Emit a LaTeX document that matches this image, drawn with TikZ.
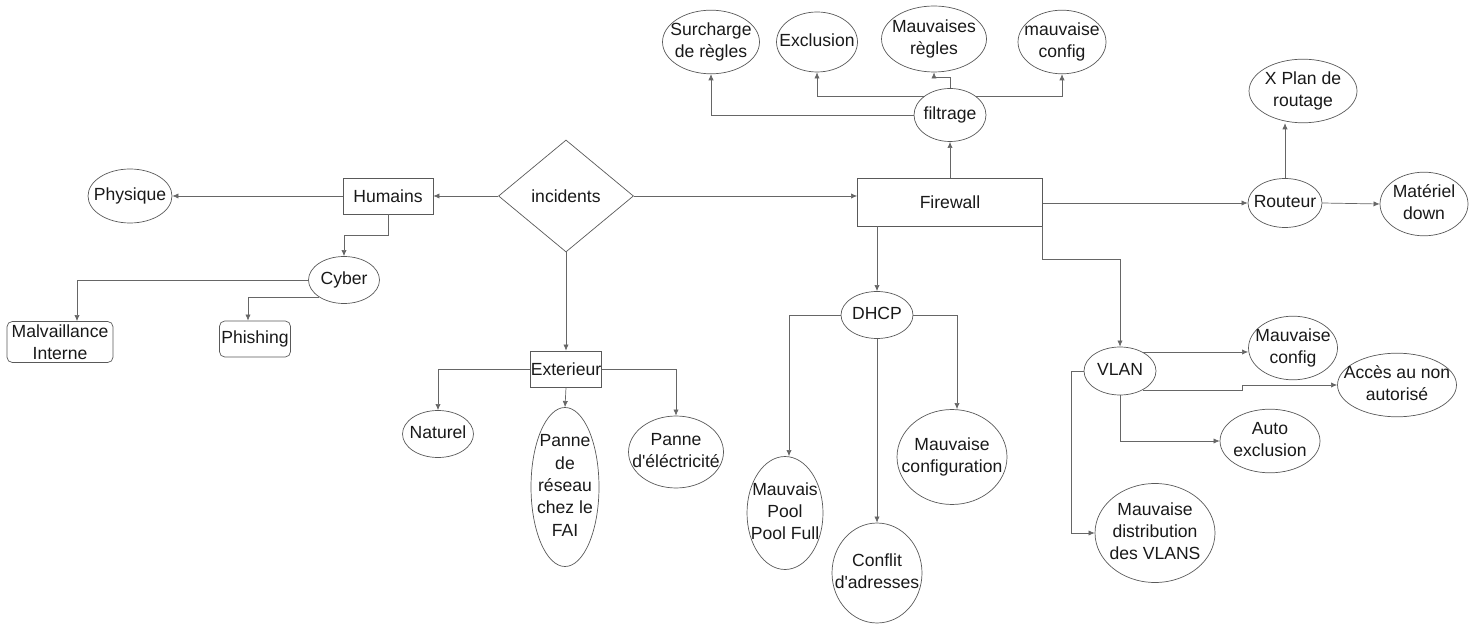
\documentclass[tikz,border=0pt]{standalone}
\usepackage{fontspec}
\setmainfont{Liberation Sans}
\usetikzlibrary{shapes.geometric,arrows.meta}

% text of an oval, kept from widening it
\newcommand{\mtext}[1]{\makebox[0pt]{\begin{tabular}{@{}c@{}}#1\end{tabular}}}

\tikzset{
  every node/.style={font=\fontsize{10}{12.8}\selectfont, text=black!90, inner sep=0pt},
  oval/.style={ellipse, draw=black!65, thin},
  box/.style={rectangle, draw=black!65, thin, align=center},
  rbox/.style={box, rounded corners=3pt},
  link/.style={draw=black!60, thin, -{Latex[length=3.5pt,width=3pt]}}
}

\begin{document}
\begin{tikzpicture}[x=0.02cm,y=-0.02cm]
\useasboundingbox (0,0) rectangle (1473,624);

% centre
\node[diamond, draw=black!65, thin, minimum width=2.7cm, minimum height=2.24cm] (inc) at (566,196) {incidents};

% humains
\node[box, minimum width=1.8cm, minimum height=0.72cm] (hum) at (388,196) {Humains};
\node[oval, minimum width=1.68cm, minimum height=1.08cm] (phy) at (130,196) {\mtext{Physique}};
\node[oval, minimum width=1.42cm, minimum height=0.94cm] (cyb) at (344,280) {\mtext{Cyber}};
\node[rbox, minimum width=2.12cm, minimum height=0.82cm] (mal) at (60,342) {Malvaillance\\Interne};
\node[rbox, minimum width=1.42cm, minimum height=0.72cm] (phi) at (255,339) {Phishing};

% exterieur
\node[box, minimum width=1.42cm, minimum height=0.72cm] (ext) at (566,369) {Exterieur};
\node[oval, minimum width=1.42cm, minimum height=0.94cm] (nat) at (438,434) {\mtext{Naturel}};
\node[oval, minimum width=1.36cm, minimum height=3.12cm] (fai) at (565,487) {\mtext{Panne\\de\\réseau\\chez le\\FAI}};
\node[oval, minimum width=1.9cm, minimum height=1.44cm] (ele) at (676,452) {\mtext{Panne\\d\textquotesingle éléctricité}};

% firewall
\node[box, minimum width=3.7cm, minimum height=0.96cm] (fw) at (950,202) {Firewall};
\node[oval, minimum width=1.44cm, minimum height=1.06cm] (fil) at (950,115) {\mtext{filtrage}};
\node[oval, minimum width=1.94cm, minimum height=1.18cm] (sur) at (711,42) {\mtext{Surcharge\\de règles}};
\node[oval, minimum width=1.62cm, minimum height=1.2cm] (exc) at (817,42) {\mtext{Exclusion}};
\node[oval, minimum width=2.1cm, minimum height=1.32cm] (mr) at (934,39) {\mtext{Mauvaises\\règles}};
\node[oval, minimum width=1.76cm, minimum height=1.2cm] (mc) at (1062,42) {\mtext{mauvaise\\config}};

% routeur
\node[oval, minimum width=1.48cm, minimum height=0.98cm] (rou) at (1285,203) {\mtext{Routeur}};
\node[oval, minimum width=2.16cm, minimum height=1.1cm] (xp) at (1303,91) {\mtext{X Plan de\\routage}};
\node[oval, minimum width=1.76cm, minimum height=0.9cm] (mat) at (1424,204) {\mtext{Matériel\\down}};

% dhcp
\node[oval, minimum width=1.44cm, minimum height=0.94cm] (dhcp) at (877,315) {\mtext{DHCP}};
\node[oval, minimum width=1.52cm, minimum height=2.26cm] (pool) at (785,513) {\mtext{Mauvais\\Pool\\Pool Full}};
\node[oval, minimum width=1.8cm, minimum height=2.0cm] (con) at (877,573) {\mtext{Conflit\\d\textquotesingle adresses}};
\node[oval, minimum width=2.2cm, minimum height=1.9cm] (mcf) at (952,457) {\mtext{Mauvaise\\configuration}};

% vlan
\node[oval, minimum width=1.44cm, minimum height=0.96cm] (vlan) at (1120,371) {\mtext{VLAN}};
\node[oval, minimum width=1.78cm, minimum height=1.24cm] (vmc) at (1293,348) {\mtext{Mauvaise\\config}};
\node[oval, minimum width=2.38cm, minimum height=1.12cm] (acc) at (1397,385) {\mtext{Accès au non\\autorisé}};
\node[oval, minimum width=2.0cm, minimum height=1.12cm] (aut) at (1270,441) {\mtext{Auto\\exclusion}};
\node[oval, minimum width=2.4cm, minimum height=1.98cm] (dis) at (1155,533) {\mtext{Mauvaise\\distribution\\des VLANS}};

% liens
\draw[link] (inc.west) -- (hum.east);
\draw[link] (inc.east) -- (fw.west |- inc.east);
\draw[link] (inc.south) -- (ext.north);

\draw[link] (hum.west) -- (phy.east);
\draw[link] (hum.south) -- ++(0,21) -| (cyb.north);
\draw[link] (cyb.west) -| ([xshift=0.34cm]mal.north);
\draw[link] (cyb.south west) -| ([xshift=-0.14cm]phi.north);

\draw[link] (ext.west) -| (nat.north);
\draw[link] (ext.south) -- (fai.north);
\draw[link] (ext.east) -| (ele.north);

\draw[link] (fw.north) -- (fil.south);
\draw[link] (fil.west) -| (sur.south);
\draw[link] (fil.north west) -| (exc.south);
\draw[link] (fil.north) -- ++(0,-11) -| (mr.south);
\draw[link] (fil.north east) -| (mc.south);

\draw[link] (fw.east |- rou.west) -- (rou.west);
\draw[link] (rou.north) -- (rou.north |- xp.south);
\draw[link] (rou.east) -- (mat.west);

\draw[link] (dhcp.north |- fw.south) -- (dhcp.north);
\draw[link] (dhcp.west) -| ([xshift=0.08cm]pool.north);
\draw[link] (dhcp.south) -- (con.north);
\draw[link] (dhcp.east) -| ([xshift=0.1cm]mcf.north);

\draw[link] (fw.south east) -- ++(0,33) -| (vlan.north);
\draw[link] (vlan.40) -- (vlan.40 -| vmc.west);
\draw[link] (vlan.-40) -- ++(100,0) |- (acc.west);
\draw[link] (vlan.south) |- (aut.west);
\draw[link] (vlan.west) -- ++(-12,0) |- (dis.west);
\end{tikzpicture}
\end{document}
